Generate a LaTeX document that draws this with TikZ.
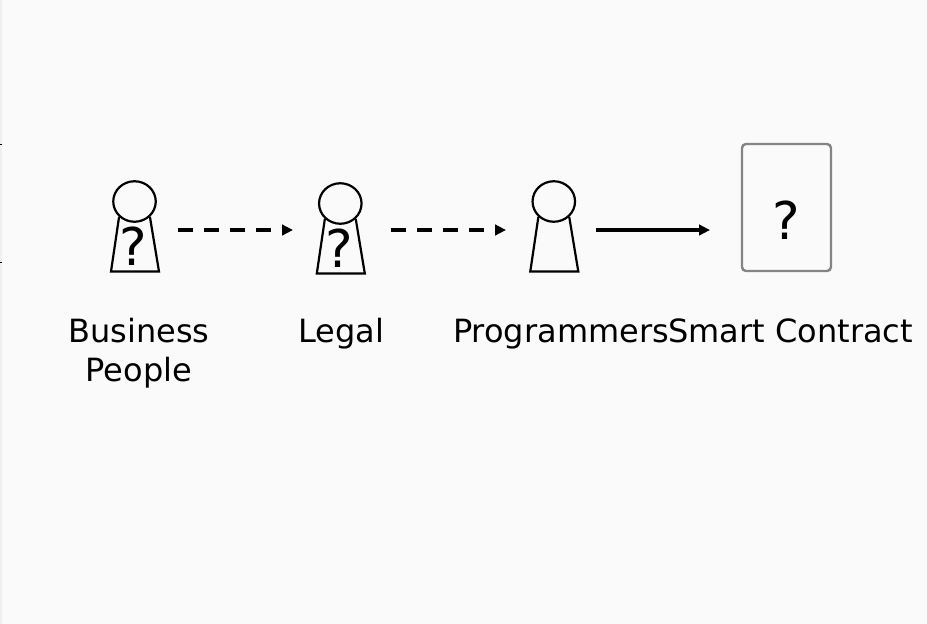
\documentclass[tikz,border=0pt]{standalone}
\usepackage{fontspec}
\setmainfont{DejaVu Sans}
\usetikzlibrary{arrows.meta,shapes.geometric}
\definecolor{pagegray}{HTML}{FAFAFA}
\definecolor{stripgray}{HTML}{EFEFEF}
\definecolor{boxgray}{HTML}{848484}

\begin{document}
\begin{tikzpicture}[x=1pt,y=-1pt,
    >={Triangle[length=11pt,width=10.5pt]},
    body line/.style={line width=2.2pt},
    head node/.style={ellipse,draw,fill=pagegray,line width=2.2pt,inner sep=0pt,minimum width=42.5pt,minimum height=40.5pt},
    mark node/.style={inner sep=0pt,font=\fontsize{52}{52}\selectfont},
    name node/.style={inner sep=0pt,align=center,font=\fontsize{32}{39}\selectfont},
    flow/.style={->,line width=3.6pt},
    maybe/.style={flow,dash pattern=on 15pt off 11pt}]

    \fill[pagegray] (0,0) rectangle (927,624);
    \useasboundingbox (0,0) rectangle (927,624);
    \fill[stripgray] (0,0) rectangle (1.5,624);
    \fill[black] (0,143.5) rectangle (1.5,144.5);
    \fill[black] (0,261.5) rectangle (1.5,262.5);

    \node[head node] (bizhead) at (134.5,201.5) {};
    \node[mark node] (bizmark) at (133.5,246) {?};
    \draw[body line] (bizhead.225) -- ([shift={(-23.5,70)}]bizhead.center) -- ([shift={(24.5,70)}]bizhead.center) -- (bizhead.315);

    \node[head node] (legalhead) at (340.3,203.5) {};
    \node[mark node] (legalmark) at (339.7,248) {?};
    \draw[body line] (legalhead.225) -- ([shift={(-23.5,70)}]legalhead.center) -- ([shift={(24.5,70)}]legalhead.center) -- (legalhead.315);

    \node[head node] (proghead) at (553.8,201.5) {};
    \draw[body line] (proghead.225) -- ([shift={(-23.5,70)}]proghead.center) -- ([shift={(24.5,70)}]proghead.center) -- (proghead.315);

    \node[draw=boxgray,line width=2.4pt,rounded corners=4pt,minimum width=89pt,minimum height=127pt,inner sep=0pt] (contract) at (786.5,207.5) {};
    \node[mark node] (contractmark) at (786.5,220.5) {?};

    \node[name node] (bizname) at (138.8,353) {Business\\People};
    \node[name node,anchor=base] (legalname) at (341,342.3) {Legal};
    \node[name node,anchor=base] (progname) at (561,342.3) {Programmers};
    \node[name node,anchor=base] (contractname) at (790.8,342.3) {Smart Contract};

    \coordinate (a1) at (178,230);
    \coordinate (a2) at (293,230);
    \coordinate (b1) at (391,230);
    \coordinate (b2) at (506,230);
    \coordinate (c1) at (596,230);
    \coordinate (c2) at (710,230);

    \draw[maybe] (a1) to (a2);
    \draw[maybe] (b1) to (b2);
    \draw[flow] (c1) to (c2);
\end{tikzpicture}
\end{document}
